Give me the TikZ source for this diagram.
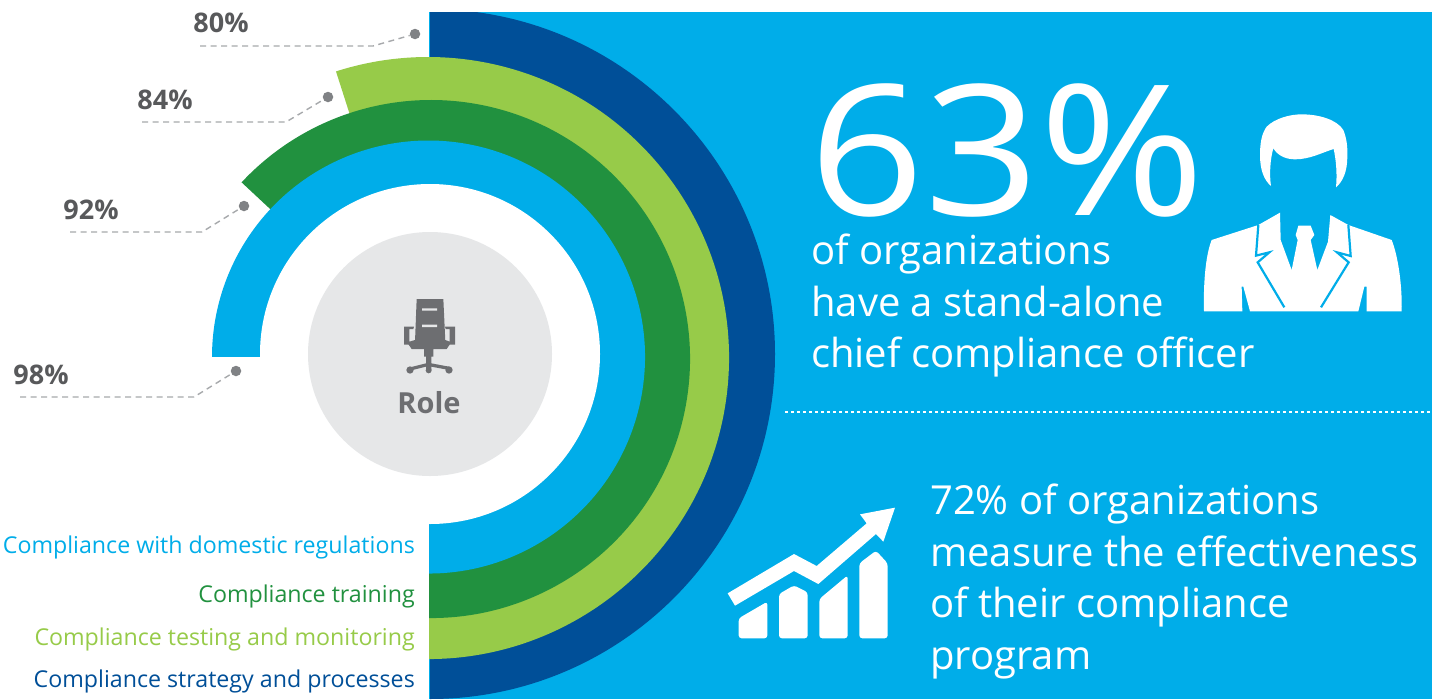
\documentclass[tikz,border=0pt]{standalone}
\usepackage{fontspec}
\setmainfont{Open Sans}
\definecolor{skyb}{HTML}{00ADE9}
\definecolor{navyb}{HTML}{004F98}
\definecolor{lgreen}{HTML}{97CB49}
\definecolor{dgreen}{HTML}{21913F}
\definecolor{pale}{HTML}{E6E7E8}
\definecolor{txtg}{HTML}{58595B}
\definecolor{dotg}{HTML}{808285}
\definecolor{chairg}{HTML}{6D6E71}
\definecolor{dashg}{HTML}{A7A9AC}
\tikzset{
  pctlabel/.style={font=\fontsize{27}{30}\selectfont\bfseries,text=txtg,inner sep=0pt},
  leaderdot/.style={circle,fill=dotg,minimum size=10.5pt,inner sep=0pt},
  leaderline/.style={draw=dashg,line width=1.4pt,dash pattern=on 6pt off 4.5pt},
  rowlabel/.style={font=\fontsize{23.2}{28}\selectfont,anchor=base east,inner sep=0pt},
  bigtext/.style={font=\fontsize{40}{51.5}\selectfont,text=white,anchor=north west,align=left,inner sep=0pt},
  iconw/.style={fill=white,draw=none},
}
\newcommand{\piesector}[6]{% colour, cx, cy, r, start, end
  \fill[#1] (#2,#3) -- ++(#5:#4) arc[start angle=#5,end angle=#6,radius=#4] -- cycle;}
\begin{document}
\begin{tikzpicture}[x=1pt,y=-1pt]
\useasboundingbox (0,0) rectangle (1446,699);
\fill[white] (0,0) rectangle (1446,699);
\fill[skyb] (429,12) rectangle (1432,699);
\begin{scope}
\clip (429,12) rectangle (1432,699);
\piesector{navyb}{430}{354}{345}{90}{-90}
\end{scope}
\begin{scope}
\clip (0,0) rectangle (1446,699);
\piesector{lgreen}{428}{358}{301}{100}{-107.8}
\piesector{dgreen}{431}{359}{259}{100}{-137}
\piesector{skyb}{428.5}{357}{216.5}{100}{-180}
\end{scope}
\fill[white] (0,357) rectangle (429,699);
\fill[white] (430,354) circle[radius=170];
\node[circle,fill=pale,minimum size=244pt,inner sep=0pt] (hub) at (430,354) {};
% chair
\begin{scope}[shift={(300,230)},x=0.33333pt,y=-0.33333pt]
\fill[chairg] (350,207) -- (430,207) -- (436,335) -- (345,335) -- cycle;
\fill[chairg] (312,290) -- (342,290) -- (340,297) -- (328,297) -- (328,335) -- (345,330) -- (436,330) -- (449,335) -- (449,297) -- (437,297) -- (435,290) -- (465,290) -- (465,344) -- (449,344) -- (440,357) -- (400,357) -- (400,380) -- (394,380) -- (394,400) -- (447,410) -- (447,420) -- (394,410) -- (394,420) -- (378,420) -- (378,410) -- (330,422) -- (330,412) -- (378,400) -- (378,380) -- (372,380) -- (372,357) -- (335,357) -- (326,344) -- (312,344) -- cycle;
\fill[chairg] (330,420) circle[radius=11] (386,421) circle[radius=9] (447,420) circle[radius=11];
\fill[pale] (366,235) rectangle (411,242) (366,284) rectangle (411,291);
\end{scope}
\node[font=\fontsize{29}{32}\selectfont\bfseries,text=chairg,inner sep=0pt,anchor=base] (rolelabel) at (429,413) {Role};
% leaders
\node[leaderdot] (d80) at (415,34) {};
\node[leaderdot] (d84) at (328,97) {};
\node[leaderdot] (d92) at (244,206) {};
\node[leaderdot] (d98) at (236,371) {};
\coordinate (s80) at (200,46); \coordinate (k80) at (373,46);
\coordinate (s84) at (142,122); \coordinate (k84) at (286,122);
\coordinate (s92) at (70,232); \coordinate (k92) at (202,232);
\coordinate (s98) at (20,397); \coordinate (k98) at (194,397);
\draw[leaderline] (s80) -- (k80) -- (d80);
\draw[leaderline] (s84) -- (k84) -- (d84);
\draw[leaderline] (s92) -- (k92) -- (d92);
\draw[leaderline] (s98) -- (k98) -- (d98);
\node[pctlabel] (p80) at (221,23) {80\%};
\node[pctlabel] (p84) at (165,100) {84\%};
\node[pctlabel] (p92) at (91,210) {92\%};
\node[pctlabel] (p98) at (41,375) {98\%};
% legend
\node[rowlabel,text=skyb] (l1) at (415,553) {Compliance with domestic regulations};
\node[rowlabel,text=dgreen] (l2) at (415,602) {Compliance training};
\node[rowlabel,text=lgreen] (l3) at (415,645) {Compliance testing and monitoring};
\node[rowlabel,text=navyb] (l4) at (415,687) {Compliance strategy and processes};
% right text
\node[font=\fontsize{182}{182}\selectfont,text=white,anchor=base west,inner sep=0pt] (big) at (809,215) {\scalebox{1.106}[1]{63\%}};
\node[bigtext] (t1) at (811,234) {of organizations\\have a stand-alone\\chief compliance officer};
\node[bigtext] (t2) at (930,484) {72\% of organizations\\measure the effectiveness\\of their compliance\\program};
\coordinate (divl) at (785,412); \coordinate (divr) at (1432,412);
\draw[white,line width=2pt,dash pattern=on 3pt off 3pt] (divl) -- (divr);
% person
\begin{scope}[shift={(1190,100)},x=0.33333pt,y=-0.33333pt]
\fill[white] (243,258) .. controls (222,240) and (210,210) .. (210,165) .. controls (210,130) and (215,100) .. (230,80) .. controls (255,55) and (300,43) .. (335,43) .. controls (385,43) and (440,58) .. (460,90) .. controls (470,115) and (473,140) .. (472,170) .. controls (472,215) and (458,245) .. (438,262) .. controls (442,220) and (438,180) .. (431,147) .. controls (395,158) and (360,178) .. (315,178) .. controls (285,178) and (262,165) .. (250,145) .. controls (240,180) and (238,225) .. (243,258) -- cycle;
\fill[white] (42,634) .. controls (40,560) and (45,470) .. (65,420) -- (205,375) -- (270,338) -- (272,420) -- (305,510) -- (323,420) -- (317,405) -- (325,377) -- (362,377) -- (373,405) -- (362,420) -- (382,510) -- (414,425) -- (421,345) -- (475,375) -- (605,420) .. controls (625,470) and (637,560) .. (635,634) -- (530,634) -- (530,560) -- (523,560) -- (505,634) -- (180,634) -- (160,560) -- (155,560) -- (157,634) -- cycle;
\draw[skyb,line width=2.2pt,miter limit=10] (205,375) -- (198,467) -- (238,457) -- (203,487) -- (283,622);
\draw[skyb,line width=2.2pt,miter limit=10] (475,375) -- (482,468) -- (441,457) -- (476,487) -- (393,622);
\end{scope}
% chart
\begin{scope}[shift={(710,490)},x=0.33333pt,y=-0.33333pt]
\fill[iconw] (53,310) -- (252,192) -- (320,228) -- (470,100) -- (450,73) -- (555,53) -- (520,155) -- (498,132) -- (325,282) -- (252,243) -- (75,347) -- cycle;
\begin{scope}[rounded corners=3pt]
\fill[iconw] (86,385) -- (172,335) -- (172,445) -- (86,445) -- cycle;
\fill[iconw] (207,312) -- (252,286) -- (293,307) -- (293,445) -- (207,445) -- cycle;
\fill[iconw] (328,327) -- (413,256) -- (413,445) -- (328,445) -- cycle;
\fill[iconw] (448,220) -- (498,182) -- (533,220) -- (533,445) -- (448,445) -- cycle;
\end{scope}
\end{scope}
\end{tikzpicture}
\end{document}
